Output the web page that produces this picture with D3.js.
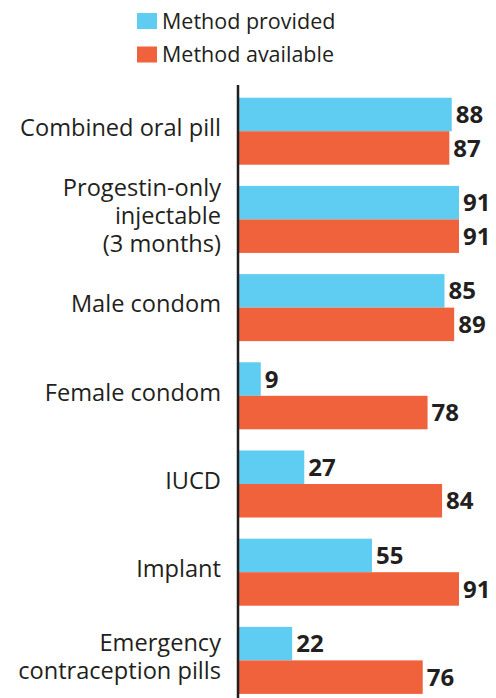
<!DOCTYPE html>
<html>
<head>
<meta charset="utf-8">
<script src="https://cdn.jsdelivr.net/npm/d3@7"></script>
<style>
  body { margin: 0; background: #fff; }
  text { font-family: "Open Sans", "Noto Sans", sans-serif; fill: #231f20; }
</style>
</head>
<body>
<svg id="viz"></svg>
<script>
var categories = ["Combined oral pill", "Progestin-only\ninjectable\n(3 months)", "Male condom",
    "Female condom", "IUCD", "Implant", "Emergency\ncontraception pills"];
var series = ["Method provided", "Method available"];
var provided = [88, 91, 85, 9, 27, 55, 22];
var available = [87, 91, 89, 78, 84, 91, 76];

var width = 496, height = 698;
var colors = ["#5fcdf2", "#ef623b"];

var svg = d3.select("#viz").attr("width", width).attr("height", height);

var x = d3.scaleLinear().domain([0, 91]).range([239, 459]);
var y = d3.scaleBand().domain(categories).range([97.7, 693.9]).paddingInner(0.24).paddingOuter(0);
var ySub = d3.scaleBand().domain(series).range([0, y.bandwidth()]);

var rows = categories.map(function(c, i) {
    return {cat: c, vals: [provided[i], available[i]]};
});

var group = svg.append("g").selectAll("g")
    .data(rows)
    .enter().append("g")
    .attr("transform", function(d) { return "translate(0," + y(d.cat) + ")"; });

group.selectAll("rect")
    .data(function(d) { return d.vals.map(function(v, j) { return {s: series[j], v: v, j: j}; }); })
    .enter().append("rect")
    .attr("x", x(0))
    .attr("y", function(d) { return ySub(d.s); })
    .attr("width", function(d) { return x(d.v) - x(0); })
    .attr("height", ySub.bandwidth())
    .attr("fill", function(d) { return colors[d.j]; });

group.selectAll("text.val")
    .data(function(d) { return d.vals.map(function(v, j) { return {s: series[j], v: v}; }); })
    .enter().append("text")
    .attr("class", "val")
    .attr("x", function(d) { return x(d.v) + 4; })
    .attr("y", function(d) { return ySub(d.s) + ySub.bandwidth() / 2; })
    .attr("dy", "0.36em")
    .style("font-size", "24px")
    .style("font-weight", "bold")
    .text(function(d) { return d.v; });

// category labels, right aligned
group.each(function(d) {
    var lines = d.cat.split("\n");
    var lh = 28;
    var t = d3.select(this).append("text")
        .attr("text-anchor", "end")
        .style("font-size", "23.6px");
    lines.forEach(function(l, k) {
        t.append("tspan")
            .attr("x", 221)
            .attr("y", y.bandwidth() / 2 + (k - (lines.length - 1) / 2) * lh)
            .attr("dy", "0.2em")
            .text(l);
    });
});

// axis line
svg.append("line")
    .attr("x1", 238).attr("x2", 238)
    .attr("y1", 85).attr("y2", height)
    .attr("stroke", "#231f20")
    .attr("stroke-width", 2.5);

// legend
var legend = svg.append("g").selectAll("g")
    .data(series)
    .enter().append("g")
    .attr("transform", function(d, i) { return "translate(137," + (13 + i * 33.5) + ")"; });
legend.append("rect")
    .attr("width", 20).attr("height", 16)
    .attr("fill", function(d, i) { return colors[i]; });
legend.append("text")
    .attr("x", 25).attr("y", 8)
    .attr("dy", "0.36em")
    .style("font-size", "21.5px")
    .text(function(d) { return d; });
</script>
</body>
</html>
